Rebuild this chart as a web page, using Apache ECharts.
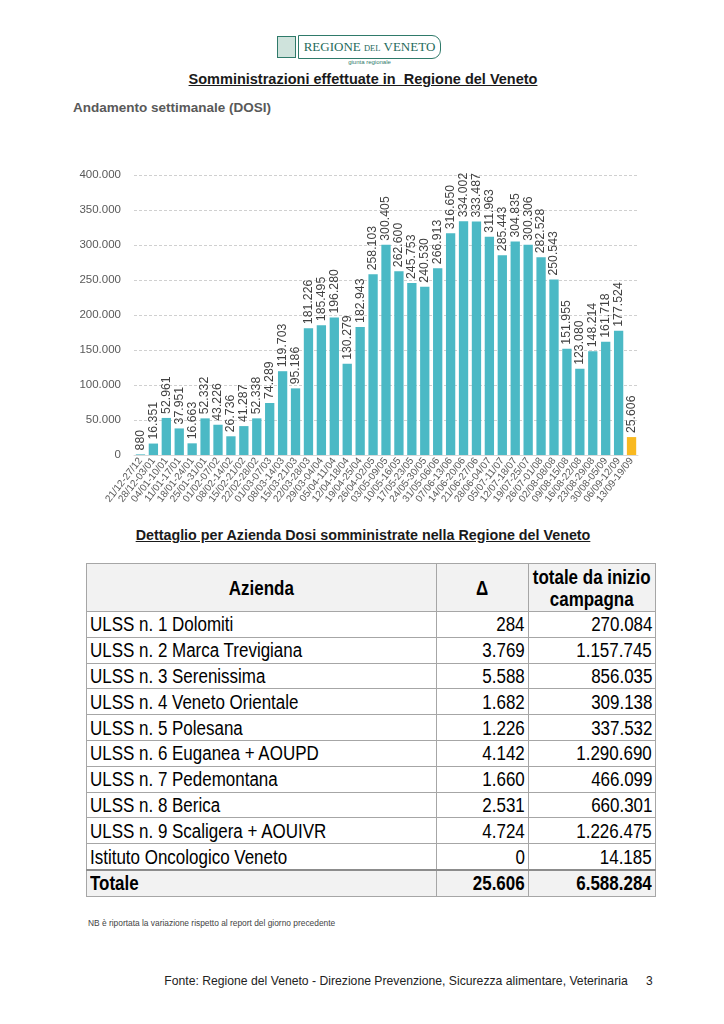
<!DOCTYPE html>
<html>
<head>
<meta charset="utf-8">
<script src="https://cdn.jsdelivr.net/npm/echarts@6/dist/echarts.min.js"></script>
<style>
  html,body{margin:0;padding:0;background:#fff;}
  #page{position:relative;width:724px;height:1024px;font-family:"Liberation Sans",Arial,sans-serif;color:#000;overflow:hidden;}
  .abs{position:absolute;}
  #logo{left:277px;top:35px;width:165px;height:24px;}
  #logo .emb{position:absolute;left:0;top:1px;width:17px;height:20px;border:1px solid #2f7a6a;background:#cfe3dc;}
  #logo .box{position:absolute;left:21px;top:0;width:141px;height:22px;border:1px solid #2f7a6a;border-radius:0 9px 9px 0;color:#1f6b5c;font-family:"Liberation Serif","DejaVu Serif",serif;font-size:13px;line-height:22px;text-align:center;white-space:nowrap;font-weight:normal;}
  #logo .box small{font-size:8.5px;}
  #giunta{left:297px;top:59px;width:145px;text-align:center;font-size:6px;color:#2f7a6a;white-space:nowrap;}
  #title{left:0;top:71px;width:724px;text-align:center;font-weight:bold;font-size:14.5px;text-decoration:underline;color:#1a1a1a;padding-left:2px;box-sizing:border-box;}
  #subtitle{left:73px;top:100px;font-weight:bold;font-size:13.5px;color:#595959;}
  #chart{left:0;top:150px;width:724px;height:370px;}
  #ttitle{left:0;top:527px;width:724px;text-align:center;font-weight:bold;font-size:14.3px;text-decoration:underline;color:#1a1a1a;padding-left:2px;box-sizing:border-box;}
  table{position:absolute;left:86px;top:563px;width:569px;border-collapse:collapse;table-layout:fixed;font-family:"Liberation Sans",Arial,sans-serif;font-size:19.5px;}
  td,th{border:1px solid #a6a6a6;padding:0 3px;height:24.8px;line-height:22px;white-space:nowrap;overflow:visible;}
  th{background:#f2f2f2;font-weight:bold;height:47px;line-height:22px;text-align:center;}
  td.n{text-align:right;}
  .s{display:inline-block;transform:scaleX(0.87);transform-origin:left center;}
  td.n .s{transform-origin:right center;}
  th .s{transform-origin:center center;margin:0 -20px;}
  tr.tot td{font-weight:bold;background:#f2f2f2;border-top:2px solid #8c8c8c;}
  #nb{left:88px;top:918px;font-size:8.4px;color:#444;}
  #fonte{left:0;top:974px;width:724px;text-align:center;font-size:12.2px;color:#222;padding-left:68px;box-sizing:border-box;}
  #pg{left:646px;top:974px;font-size:12px;color:#222;}
</style>
</head>
<body>
<div id="page">
  <div id="logo" class="abs"><div class="emb"></div><div class="box">REGIONE <small>DEL</small> VENETO</div></div>
  <div id="giunta" class="abs">giunta regionale</div>
  <div id="title" class="abs">Somministrazioni effettuate in&nbsp; Regione del Veneto</div>
  <div id="subtitle" class="abs">Andamento settimanale (DOSI)</div>
  <div id="chart" class="abs"></div>
  <div id="ttitle" class="abs">Dettaglio per Azienda Dosi somministrate nella Regione del Veneto</div>
  <table id="tbl"></table>
  <div id="nb" class="abs">NB è riportata la variazione rispetto al report del giorno precedente</div>
  <div id="fonte" class="abs">Fonte: Regione del Veneto - Direzione Prevenzione, Sicurezza alimentare, Veterinaria</div>
  <div id="pg" class="abs">3</div>
</div>
<script>
var weeks = ["21/12-27/12","28/12-03/01","04/01-10/01","11/01-17/01","18/01-24/01","25/01-31/01","01/02-07/02","08/02-14/02","15/02-21/02","22/02-28/02","01/03-07/03","08/03-14/03","15/03-21/03","22/03-28/03","29/03-04/04","05/04-11/04","12/04-18/04","19/04-25/04","26/04-02/05","03/05-09/05","10/05-16/05","17/05-23/05","24/05-30/05","31/05-06/06","07/06-13/06","14/06-20/06","21/06-27/06","28/06-04/07","05/07-11/07","12/07-18/07","19/07-25/07","26/07-01/08","02/08-08/08","09/08-15/08","16/08-22/08","23/08-29/08","30/08-05/09","06/09-12/09","13/09-19/09"];
var doses = [880,16351,52961,37951,16663,52332,43226,26736,41287,52338,74289,119703,95186,181226,185495,196280,130279,182943,258103,300405,262600,245753,240530,266913,316650,334002,333487,311963,285443,304835,300306,282528,250543,151955,123080,148214,161718,177524,25606];
var yTicks = [0,50000,100000,150000,200000,250000,300000,350000,400000];

var aziende = ["ULSS n. 1 Dolomiti","ULSS n. 2 Marca Trevigiana","ULSS n. 3 Serenissima","ULSS n. 4 Veneto Orientale","ULSS n. 5 Polesana","ULSS n. 6 Euganea + AOUPD","ULSS n. 7 Pedemontana","ULSS n. 8 Berica","ULSS n. 9 Scaligera + AOUIVR","Istituto Oncologico Veneto"];
var delta = [284,3769,5588,1682,1226,4142,1660,2531,4724,0];
var totale = [270084,1157745,856035,309138,337532,1290690,466099,660301,1226475,14185];
var totDelta = 25606;
var totTotale = 6588284;

function fmt(v){return String(v).replace(/\B(?=(\d{3})+(?!\d))/g,'.');}

var teal = '#4bb9c5', orange = '#f9b920';
var chart = echarts.init(document.getElementById('chart'), null, {renderer:'canvas'});
chart.setOption({
  animation:false,
  grid:{left:134,right:86,top:25,bottom:65,containLabel:false},
  xAxis:{
    type:'category', data:weeks,
    axisLine:{show:true,lineStyle:{color:'#d9d9d9'}},
    axisTick:{show:false},
    axisLabel:{interval:0,rotate:52,fontSize:10,color:'#595959',margin:4,fontFamily:'Liberation Sans, Arial, sans-serif'}
  },
  yAxis:{
    type:'value', min:yTicks[0], max:yTicks[yTicks.length-1], interval:50000,
    axisLine:{show:false}, axisTick:{show:false},
    splitLine:{lineStyle:{color:'#d0d0d0',type:[3,2]}},
    axisLabel:{fontSize:11.5,color:'#595959',margin:13,formatter:function(v){return fmt(v);},fontFamily:'Liberation Sans, Arial, sans-serif'}
  },
  series:[{
    type:'bar', data:doses.map(function(v,i){return {value:v,itemStyle:{color:i===doses.length-1?orange:teal}};}),
    barCategoryGap:'28%',
    label:{show:true,position:'top',rotate:90,align:'left',verticalAlign:'middle',distance:4,fontSize:12.3,color:'#404040',
      fontFamily:'Liberation Sans, Arial, sans-serif',formatter:function(p){return fmt(p.value);}}
  }]
});

function s(t){return '<span class="s">'+t+'</span>';}
var html = '<colgroup><col style="width:350px"><col style="width:92px"><col style="width:127px"></colgroup>';
html += '<tr><th>'+s('Azienda')+'</th><th>'+s('\u0394')+'</th><th>'+s('totale da inizio<br>campagna')+'</th></tr>';
for (var i=0;i<aziende.length;i++){
  html += '<tr><td>'+s(aziende[i])+'</td><td class="n">'+s(fmt(delta[i]))+'</td><td class="n">'+s(fmt(totale[i]))+'</td></tr>';
}
html += '<tr class="tot"><td>'+s('Totale')+'</td><td class="n">'+s(fmt(totDelta))+'</td><td class="n">'+s(fmt(totTotale))+'</td></tr>';
document.getElementById('tbl').innerHTML = html;
</script>
</body>
</html>
